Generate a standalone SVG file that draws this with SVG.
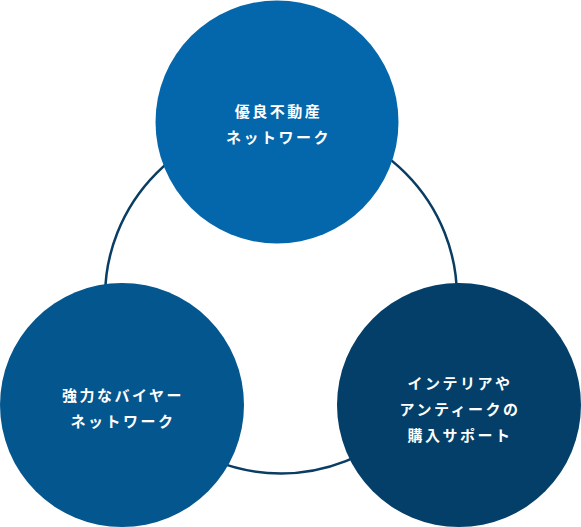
<svg xmlns="http://www.w3.org/2000/svg" width="581" height="527" viewBox="0 0 581 527">
<style>
.lbl{font-family:"Noto Sans CJK JP","Noto Sans",sans-serif;font-weight:700;font-size:15px;fill:#ffffff;text-anchor:middle;letter-spacing:2.5px}
.ring{fill:none;stroke:#0a3d63;stroke-width:2.5}
</style>
<g id="connectors">
<circle class="ring" cx="281" cy="297.5" r="176"/>
</g>
<g id="node-top">
<circle cx="277" cy="122" r="121.5" fill="#0467ac"/>
<text class="lbl" x="278.5" y="117">優良不動産</text>
<text class="lbl" x="278.5" y="143">ネットワーク</text>
</g>
<g id="node-left">
<circle cx="122" cy="405" r="122" fill="#04568f"/>
<text class="lbl" x="123" y="401">強力なバイヤー</text>
<text class="lbl" x="123" y="427">ネットワーク</text>
</g>
<g id="node-right">
<circle cx="459" cy="405" r="122" fill="#033f68"/>
<text class="lbl" x="460" y="389">インテリアや</text>
<text class="lbl" x="460" y="415">アンティークの</text>
<text class="lbl" x="460" y="441">購入サポート</text>
</g>
</svg>
